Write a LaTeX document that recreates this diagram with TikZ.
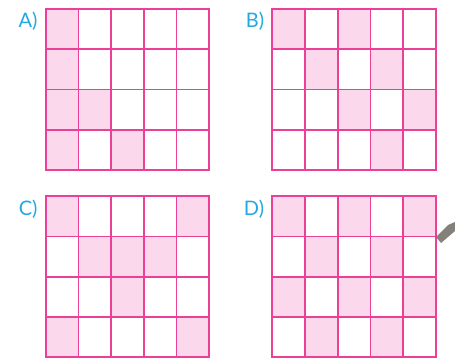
\documentclass[tikz,border=0pt]{standalone}
\usepackage{fontspec}
\newfontfamily\labelfont{Lato}
\usetikzlibrary{backgrounds}
\definecolor{gridPink}{HTML}{EC3F98}
\definecolor{cellPink}{HTML}{FBD8EB}
\definecolor{labelBlue}{HTML}{22A9E1}
\definecolor{penGray}{HTML}{6E6B63}
\tikzset{
  cell/.style={rectangle, draw=gridPink, line width=1.7pt, minimum width=32.7pt,
               minimum height=40.3pt, inner sep=0pt, outer sep=0pt},
  frame/.style={draw=gridPink, line width=2.3pt},
  shadeP/.style={fill=cellPink},
  optLabel/.style={text=labelBlue, font=\labelfont\fontsize{20}{20}\selectfont,
                   inner sep=0pt, anchor=north east},
}

\begin{document}
\begin{tikzpicture}[x=1pt, y=-1pt]
  \useasboundingbox (0,0) rectangle (455,358);
  \foreach \p/\x/\y/\cells in {A/45.7/9/{1/1,2/1,3/1,3/2,4/1,4/3},
                               B/272.3/9/{1/1,1/3,2/2,2/4,3/3,3/5,4/4},
                               C/45.7/196.3/{1/1,1/5,2/2,2/3,2/4,3/3,4/1,4/5},
                               D/272.3/196.3/{1/1,1/3,1/5,2/2,2/4,3/1,3/3,3/5,4/2,4/4}} {
    \foreach \r in {1,...,4}
      \foreach \c in {1,...,5}
        \node[cell] (\p-\r-\c) at (\x+\c*32.7-16.35, \y+\r*40.3-20.15) {};
    \begin{scope}[on background layer]
      \foreach \r/\c in \cells
        \fill[shadeP] (\p-\r-\c.north west) rectangle (\p-\r-\c.south east);
    \end{scope}
    \draw[frame] (\p-1-1.north west) rectangle (\p-4-5.south east);
    \node[optLabel] (lbl\p) at ([xshift=-8pt, yshift=-3pt]\p-1-1.north west) {\p)};
  }
  % pen tip at the right border
  \fill[penGray, opacity=0.85] (436,237) -- (448,225) -- (455,222) -- (455,231)
    -- (441,243) -- cycle;
\end{tikzpicture}
\end{document}
